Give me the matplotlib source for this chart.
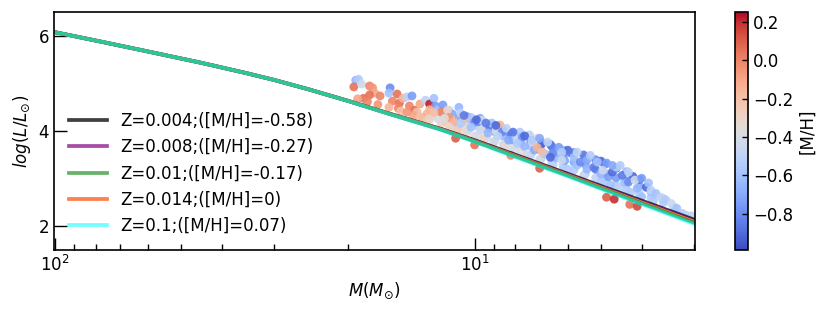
import matplotlib.pyplot as plt
import matplotlib.ticker as ticker

# model tracks: mass grid (Msun) and log L for each metallicity
model_mass = [100, 80, 60, 45, 35, 30, 25, 20, 16, 12, 10, 8, 6, 5, 4, 3]
logl_z0004 = [6.08, 5.905, 5.674, 5.44, 5.22, 5.075, 4.885, 4.635, 4.37, 4.045, 3.81, 3.505, 3.105, 2.85, 2.54, 2.14]
logl_z0008 = [6.08, 5.905, 5.674, 5.44, 5.22, 5.075, 4.885, 4.635, 4.37, 4.04, 3.80, 3.49, 3.09, 2.83, 2.52, 2.115]
logl_z001 = [6.08, 5.905, 5.674, 5.44, 5.22, 5.075, 4.885, 4.635, 4.365, 4.03, 3.785, 3.47, 3.065, 2.80, 2.485, 2.075]
logl_z0014 = [6.08, 5.905, 5.674, 5.44, 5.22, 5.075, 4.885, 4.635, 4.367, 4.035, 3.79, 3.48, 3.075, 2.815, 2.50, 2.095]
logl_z01 = [6.08, 5.905, 5.674, 5.44, 5.22, 5.075, 4.885, 4.632, 4.36, 4.025, 3.775, 3.455, 3.05, 2.785, 2.465, 2.05]

track_labels = ["Z=0.004;([M/H]=-0.58)", "Z=0.008;([M/H]=-0.27)", "Z=0.01;([M/H]=-0.17)",
                "Z=0.014;([M/H]=0)", "Z=0.1;([M/H]=0.07)"]

# observed stars: mass, log L, [M/H]
star_mass = [19.2, 18.9, 19.4, 18.6, 17.8, 17.5, 17.3, 17.8, 16.8, 15.9, 16.0, 15.7, 15.3, 15.1, 14.8,
             14.5, 14.1, 14.3, 13.9, 13.5, 13.7, 13.1, 12.8, 12.5, 12.4, 13.0, 12.6, 12.1, 11.8, 11.5,
             11.3, 11.2, 13.3, 15.2, 18.4,
             19.0, 18.0, 17.0, 16.0, 15.0, 14.0, 13.0, 12.0,
             13.5, 12.8, 12.8, 14.5,
             12.2, 12.2, 11.7, 11.7, 11.3, 10.9, 10.9, 10.4, 10.4, 10.4, 9.8, 9.8, 9.8, 9.35, 9.35,
             8.95, 8.95, 8.95, 8.55, 8.55, 8.55, 8.15, 8.15, 8.15, 7.75, 7.75, 7.75, 7.35, 7.35, 7.35,
             6.95, 6.95, 6.95, 6.55, 6.55, 6.55, 6.15, 6.15, 6.15, 5.8, 5.8, 5.8, 5.45, 5.45, 5.45,
             5.15, 5.15, 5.15, 4.9, 4.9, 4.9, 4.6, 4.6, 4.35, 4.35, 4.35, 4.05, 4.05, 4.05,
             3.8, 3.8, 3.55, 3.55, 3.35, 3.05,
             11.9, 12.0, 11.6, 11.5, 11.2, 10.9, 10.8, 10.6, 10.4, 10.2, 10.0, 9.7, 9.6, 9.5, 9.2,
             9.1, 8.9, 8.7, 8.6, 8.4, 8.2, 8.0, 7.8, 7.7, 7.4, 7.3, 7.1,
             11.5, 11.0, 10.5, 10.0, 9.5, 9.0, 8.5, 8.0, 7.5, 7.0, 6.5, 6.0, 5.5, 5.0, 4.75, 4.5,
             4.25, 4.0, 3.75,
             12.5, 11.8, 10.8, 10.2, 9.7, 9.3, 8.8, 8.3, 7.9, 7.6, 7.2, 6.8, 6.4, 6.1, 5.7, 5.4,
             5.0, 4.8, 4.4, 4.1,
             10.6, 9.9, 9.4, 8.9, 8.1, 7.6, 6.9, 6.6, 6.0, 5.5, 5.0, 4.6, 4.2,
             7.3, 7.1, 7.0, 6.9, 6.7, 6.5, 6.3, 6.2, 6.2, 5.9, 5.8, 5.7, 5.6, 5.4, 5.3, 5.2, 5.1,
             4.95, 4.85, 4.7, 4.6, 6.6,
             4.7, 4.5, 4.45, 4.3, 4.3, 4.15, 4.0, 3.9, 3.85, 3.8, 3.7, 3.6, 3.5, 3.4, 3.3, 3.2, 3.13,
             11.1, 10.0, 8.2, 7.0, 4.85, 4.65, 4.27, 4.1]
star_logl = [5.07, 5.09, 4.93, 4.99, 4.95, 4.91, 4.80, 4.76, 4.74, 4.91, 4.80, 4.63, 4.78, 4.59, 4.69,
             4.72, 4.74, 4.53, 4.44, 4.57, 4.40, 4.65, 4.57, 4.69, 4.53, 4.36, 4.32, 4.40, 4.29, 4.44,
             4.36, 4.23, 4.27, 4.48, 4.69,
             4.68, 4.62, 4.56, 4.50, 4.42, 4.33, 4.25, 4.16,
             4.30, 4.24, 4.45, 4.40,
             4.25, 4.45, 4.20, 4.35, 4.10, 4.05, 4.30, 4.00, 4.20, 4.30, 3.90, 4.10, 4.20, 3.85, 4.05,
             3.80, 3.98, 4.10, 3.72, 3.90, 4.02, 3.65, 3.82, 3.95, 3.58, 3.75, 3.88, 3.50, 3.68, 3.80,
             3.42, 3.60, 3.72, 3.35, 3.52, 3.68, 3.27, 3.45, 3.60, 3.18, 3.35, 3.55, 3.10, 3.30, 3.45,
             3.02, 3.20, 3.40, 2.95, 3.12, 3.30, 2.86, 3.02, 2.78, 2.95, 3.15, 2.68, 2.85, 2.98,
             2.60, 2.72, 2.50, 2.58, 2.40, 2.22,
             4.55, 4.40, 4.44, 4.29, 4.19, 4.50, 4.38, 4.23, 4.08, 4.29, 4.19, 4.27, 4.23, 4.06, 4.08,
             4.17, 4.02, 4.13, 3.98, 4.06, 3.92, 3.85, 3.98, 3.87, 3.92, 3.77, 3.85,
             4.08, 4.02, 3.96, 3.90, 3.84, 3.76, 3.68, 3.60, 3.50, 3.41, 3.30, 3.20, 3.07, 2.94, 2.87, 2.79,
             2.71, 2.62, 2.53,
             4.39, 4.27, 4.16, 4.08, 4.02, 3.96, 3.89, 3.81, 3.74, 3.68, 3.60, 3.52, 3.44, 3.38, 3.28, 3.20,
             3.10, 3.04, 2.92, 2.80,
             4.33, 4.24, 4.17, 4.12, 3.98, 3.90, 3.75, 3.72, 3.60, 3.50, 3.37, 3.22, 3.05,
             3.81, 3.66, 3.85, 3.56, 3.77, 3.54, 3.66, 3.56, 3.39, 3.54, 3.45, 3.56, 3.35, 3.39, 3.49, 3.24, 3.35,
             3.18, 3.33, 3.14, 3.24, 3.45,
             3.28, 3.28, 3.07, 3.14, 2.93, 2.97, 3.01, 2.82, 2.91, 2.76, 2.69, 2.61, 2.55, 2.48, 2.38, 2.27, 2.23,
             3.85, 3.71, 3.49, 3.22, 2.61, 2.57, 2.46, 2.42]
star_mh = [-0.65, -0.55, 0.05, -0.45, 0.0, -0.05, -0.1, 0.05, 0.0, -0.8, -0.6, 0.0, 0.05, 0.05, -0.15,
           -0.5, -0.75, 0.0, 0.05, -0.1, -0.2, -0.5, 0.22, -0.6, -0.75, -0.15, -0.3, -0.1, -0.25, -0.45,
           -0.7, -0.35, -0.05, 0.0, 0.05,
           -0.1, 0.0, -0.05, -0.15, -0.2, -0.1, -0.25, -0.3,
           -0.2, -0.3, -0.15, -0.05,
           -0.4, -0.6, -0.25, -0.5, -0.45, -0.3, -0.7, -0.45, -0.6, -0.85, -0.35, -0.55, -0.8, -0.4, -0.7,
           -0.3, -0.6, -0.85, -0.45, -0.65, -0.9, -0.4, -0.7, -0.85, -0.35, -0.65, -0.85, -0.5, -0.6, -0.85,
           -0.55, -0.75, -0.9, -0.5, -0.65, -0.85, -0.55, -0.8, -0.65, -0.55, -0.7, -0.85, -0.55, -0.75, -0.65,
           -0.5, -0.85, -0.8, -0.55, -0.65, -0.85, -0.55, -0.75, -0.55, -0.8, -0.65, -0.55, -0.7, -0.85,
           -0.55, -0.6, -0.55, -0.6, -0.55, -0.5,
           -0.75, 0.0, -0.3, -0.05, -0.15, -0.65, -0.5, -0.2, -0.35, -0.55, -0.8, -0.7, -0.45, -0.3, -0.85,
           -0.6, -0.4, -0.15, -0.8, -0.5, -0.85, -0.45, -0.55, -0.75, -0.5, -0.4, -0.3,
           -0.3, -0.25, -0.35, -0.4, -0.3, -0.45, -0.35, -0.4, -0.45, -0.4, -0.5, -0.55, -0.45, -0.55, -0.6, -0.5,
           -0.55, -0.6, -0.55,
           -0.2, -0.35, -0.55, -0.6, -0.45, -0.65, -0.5, -0.7, -0.55, -0.65, -0.7, -0.6, -0.65, -0.7, -0.6, -0.65,
           -0.65, -0.75, -0.6, -0.65,
           -0.85, -0.9, -0.85, -0.9, -0.85, -0.9, -0.9, -0.85, -0.9, -0.85, -0.9, -0.85, -0.9,
           -0.55, -0.15, -0.7, -0.2, -0.5, -0.8, -0.75, -0.55, -0.45, -0.85, -0.6, -0.5, -0.8, -0.7, -0.55, -0.85, -0.6,
           -0.45, -0.75, -0.9, -0.55, -0.9,
           -0.7, -0.55, -0.85, -0.5, -0.8, -0.45, -0.75, -0.9, -0.6, -0.5, -0.6, -0.5, -0.55, -0.45, -0.6, -0.55, -0.5,
           0.1, 0.05, 0.0, 0.1, 0.1, 0.2, 0.05, 0.15]

plt.rcParams['axes.linewidth'] = 1.2
fig = plt.figure(figsize=(8.3, 3.13), dpi=100)
ax = fig.add_axes([0.065, 0.201, 0.772, 0.760])
cax = fig.add_axes([0.8855, 0.201, 0.0157, 0.760])

sc = ax.scatter(star_mass, star_logl, c=star_mh, cmap='coolwarm', vmin=-0.99, vmax=0.25,
                s=40, alpha=0.9, linewidths=0, zorder=1)

ax.plot(model_mass, logl_z0004, color='black', alpha=0.75, lw=2.7, label=track_labels[0], zorder=2)
ax.plot(model_mass, logl_z0008, color='purple', alpha=0.7, lw=2.7, label=track_labels[1], zorder=2.1)
ax.plot(model_mass, logl_z001, color='green', alpha=0.6, lw=2.7, label=track_labels[2], zorder=2.3)
ax.plot(model_mass, logl_z0014, color='coral', alpha=1.0, lw=2.7, label=track_labels[3], zorder=2.2)
ax.plot(model_mass, logl_z01, color='cyan', alpha=0.55, lw=2.7, label=track_labels[4], zorder=2.4)

ax.set_xscale('log')
ax.set_xlim(100.5, 2.99)
ax.set_ylim(1.5, 6.5)
ax.set_yticks([2, 4, 6])
ax.xaxis.set_minor_formatter(ticker.NullFormatter())
ax.tick_params(which='major', direction='in', length=9, width=1, labelsize=12)
ax.tick_params(which='minor', direction='in', length=4, width=1)
ax.tick_params(axis='y', which='minor', left=False)

ax.set_xlabel(r'$M(M_{\odot})$', fontsize=12)
ax.set_ylabel(r'$log(L/L_{\odot})$', fontsize=12)
ax.legend(loc='lower left', frameon=False, fontsize=12, handlelength=2.3)

cb = fig.colorbar(sc, cax=cax)
cb.solids.set_alpha(1)
cb.set_ticks([0.2, 0.0, -0.2, -0.4, -0.6, -0.8])
cb.ax.tick_params(direction='in', length=4, width=1, labelsize=12)
cb.set_label('[M/H]', fontsize=12)

fig.savefig('out.png', dpi=100)
